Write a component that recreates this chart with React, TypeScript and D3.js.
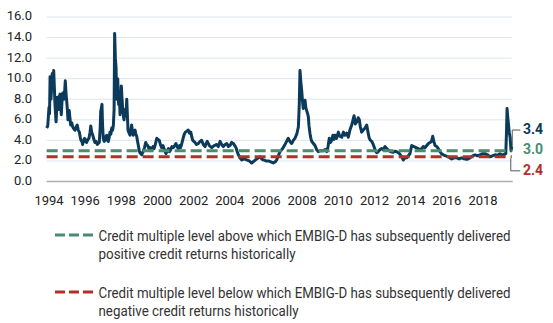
import React from "react";
import * as d3 from "d3";

// EMBIG-D credit multiple, [year, value]
const creditMultiple: [number, number][] = [
  [1993.87, 5.2], [1993.93, 5.4], [1994.0, 7.2], [1994.03, 6.6], [1994.06, 10.2], [1994.11, 8.0],
  [1994.15, 9.4], [1994.18, 10.5], [1994.22, 9.6], [1994.26, 10.8], [1994.3, 9.0], [1994.33, 7.5],
  [1994.39, 5.8], [1994.43, 7.2], [1994.46, 8.2], [1994.5, 7.4], [1994.54, 7.0], [1994.58, 8.3],
  [1994.61, 8.5], [1994.65, 7.3], [1994.68, 6.5], [1994.72, 7.8], [1994.76, 8.6], [1994.8, 8.2],
  [1994.83, 8.0], [1994.87, 8.9], [1994.9, 9.8], [1994.94, 8.6], [1994.98, 7.8], [1995.02, 6.9],
  [1995.05, 6.0], [1995.09, 6.5], [1995.12, 6.9], [1995.16, 6.1], [1995.2, 5.5], [1995.26, 5.7],
  [1995.31, 5.3], [1995.38, 5.1], [1995.44, 5.0], [1995.5, 5.3], [1995.56, 5.5], [1995.62, 5.0],
  [1995.68, 4.8], [1995.73, 4.3], [1995.77, 4.0], [1995.82, 3.9], [1995.86, 3.6], [1995.92, 4.0],
  [1995.97, 4.2], [1996.02, 3.9], [1996.08, 3.8], [1996.15, 4.1], [1996.21, 4.2], [1996.27, 4.8],
  [1996.31, 5.4], [1996.36, 4.8], [1996.42, 4.5], [1996.48, 4.1], [1996.54, 3.8], [1996.6, 3.9],
  [1996.67, 3.6], [1996.72, 3.7], [1996.78, 3.8], [1996.83, 5.2], [1996.86, 6.8], [1996.93, 7.5],
  [1996.96, 5.6], [1997.0, 4.2], [1997.05, 3.9], [1997.1, 4.0], [1997.15, 4.4], [1997.19, 4.5],
  [1997.24, 4.0], [1997.28, 3.9], [1997.33, 4.3], [1997.37, 4.8], [1997.42, 4.6], [1997.47, 5.2],
  [1997.52, 5.0], [1997.56, 5.5], [1997.6, 7.0], [1997.63, 14.4], [1997.67, 12.0], [1997.71, 11.0],
  [1997.74, 8.0], [1997.77, 9.2], [1997.8, 10.0], [1997.85, 7.5], [1997.89, 8.2], [1997.93, 6.5],
  [1997.97, 7.8], [1998.0, 9.3], [1998.04, 8.0], [1998.08, 7.0], [1998.12, 6.3], [1998.15, 6.0],
  [1998.19, 6.8], [1998.22, 7.0], [1998.26, 6.4], [1998.3, 8.0], [1998.34, 6.2], [1998.37, 5.0],
  [1998.43, 4.7], [1998.48, 4.5], [1998.53, 5.0], [1998.57, 5.5], [1998.62, 4.8], [1998.66, 4.5],
  [1998.71, 4.9], [1998.76, 5.0], [1998.8, 4.6], [1998.85, 4.4], [1998.9, 3.9], [1998.94, 3.5],
  [1998.99, 3.0], [1999.03, 2.8], [1999.08, 2.7], [1999.13, 2.6], [1999.17, 2.8], [1999.21, 2.9],
  [1999.28, 3.3], [1999.35, 3.8], [1999.4, 3.6], [1999.46, 3.5], [1999.52, 3.2], [1999.59, 3.3],
  [1999.63, 3.0], [1999.68, 3.1], [1999.75, 3.4], [1999.81, 3.2], [1999.88, 3.6], [1999.96, 4.2],
  [2000.03, 4.1], [2000.1, 4.0], [2000.16, 3.6], [2000.23, 3.3], [2000.3, 3.5], [2000.36, 3.2],
  [2000.42, 2.9], [2000.47, 2.7], [2000.54, 3.0], [2000.6, 3.2], [2000.66, 2.9], [2000.73, 3.1],
  [2000.8, 3.4], [2000.87, 3.3], [2000.95, 3.5], [2001.02, 3.7], [2001.08, 3.4], [2001.15, 3.2],
  [2001.22, 3.5], [2001.28, 3.3], [2001.36, 3.8], [2001.43, 4.3], [2001.48, 4.6], [2001.54, 4.8],
  [2001.62, 4.9], [2001.7, 5.0], [2001.77, 4.7], [2001.84, 4.8], [2001.9, 4.3], [2001.95, 4.0],
  [2002.01, 3.9], [2002.07, 3.8], [2002.16, 3.6], [2002.26, 3.7], [2002.35, 3.9], [2002.44, 4.0],
  [2002.53, 3.6], [2002.63, 3.4], [2002.69, 3.7], [2002.75, 3.9], [2002.87, 3.5], [2003.0, 3.3],
  [2003.13, 3.5], [2003.27, 3.6], [2003.36, 3.4], [2003.46, 3.9], [2003.55, 3.6], [2003.64, 3.4],
  [2003.74, 3.6], [2003.83, 3.7], [2003.92, 3.4], [2004.01, 3.5], [2004.1, 3.8], [2004.19, 3.7],
  [2004.27, 3.5], [2004.34, 3.3], [2004.41, 2.9], [2004.47, 2.6], [2004.56, 2.3], [2004.66, 2.1],
  [2004.8, 2.2], [2004.93, 2.1], [2005.07, 2.0], [2005.21, 1.8], [2005.35, 2.0], [2005.49, 2.2],
  [2005.58, 2.3], [2005.67, 2.4], [2005.76, 2.2], [2005.85, 2.1], [2006.0, 2.0], [2006.13, 2.0],
  [2006.27, 1.9], [2006.4, 1.8], [2006.5, 1.9], [2006.59, 2.1], [2006.68, 2.5], [2006.77, 2.9],
  [2006.92, 3.2], [2007.05, 3.6], [2007.14, 3.9], [2007.23, 4.2], [2007.32, 3.9], [2007.42, 3.7],
  [2007.51, 4.0], [2007.6, 4.2], [2007.7, 4.6], [2007.79, 5.3], [2007.84, 7.5], [2007.88, 10.8],
  [2007.93, 9.6], [2007.97, 8.9], [2008.02, 7.8], [2008.06, 7.1], [2008.11, 7.5], [2008.16, 7.9],
  [2008.2, 7.2], [2008.25, 6.9], [2008.3, 6.6], [2008.34, 6.3], [2008.38, 5.4], [2008.43, 4.7],
  [2008.48, 4.2], [2008.53, 3.9], [2008.62, 3.7], [2008.71, 3.5], [2008.8, 3.1], [2008.89, 2.9],
  [2009.03, 3.0], [2009.17, 3.0], [2009.27, 3.1], [2009.36, 2.9], [2009.43, 3.4], [2009.5, 4.2],
  [2009.56, 3.8], [2009.63, 4.0], [2009.7, 4.5], [2009.76, 4.1], [2009.82, 4.5], [2009.9, 4.2],
  [2010.0, 4.8], [2010.08, 4.4], [2010.19, 4.3], [2010.28, 4.8], [2010.37, 4.5], [2010.46, 4.7],
  [2010.55, 4.3], [2010.64, 5.0], [2010.74, 5.5], [2010.8, 5.9], [2010.87, 6.4], [2010.94, 5.6],
  [2011.02, 5.8], [2011.1, 6.2], [2011.16, 6.0], [2011.22, 5.3], [2011.29, 4.8], [2011.38, 5.0],
  [2011.48, 5.2], [2011.57, 5.5], [2011.64, 4.8], [2011.71, 4.2], [2011.78, 4.0], [2011.85, 3.9],
  [2011.91, 3.7], [2011.97, 3.4], [2012.05, 3.0], [2012.12, 2.8], [2012.21, 2.9], [2012.3, 3.1],
  [2012.4, 3.2], [2012.49, 3.1], [2012.58, 3.4], [2012.67, 3.2], [2012.76, 3.05], [2012.9, 2.9],
  [2013.04, 2.85], [2013.13, 2.95], [2013.23, 2.9], [2013.32, 2.8], [2013.41, 2.65], [2013.5, 2.4],
  [2013.59, 2.1], [2013.69, 2.3], [2013.78, 2.3], [2013.87, 2.5], [2013.96, 2.7], [2014.02, 3.2],
  [2014.06, 3.5], [2014.18, 3.4], [2014.3, 3.3], [2014.41, 3.2], [2014.52, 3.1], [2014.61, 3.2],
  [2014.7, 3.4], [2014.8, 3.3], [2014.89, 3.5], [2014.98, 3.7], [2015.07, 3.8], [2015.15, 3.9],
  [2015.22, 4.4], [2015.28, 3.9], [2015.35, 3.5], [2015.44, 3.4], [2015.53, 3.2], [2015.62, 2.9],
  [2015.71, 2.7], [2015.8, 2.6], [2015.94, 2.5], [2016.08, 2.4], [2016.17, 2.3], [2016.27, 2.2],
  [2016.41, 2.3], [2016.55, 2.3], [2016.68, 2.2], [2016.82, 2.3], [2016.96, 2.2], [2017.1, 2.15],
  [2017.19, 2.2], [2017.28, 2.3], [2017.42, 2.5], [2017.56, 2.6], [2017.7, 2.5], [2017.83, 2.6],
  [2017.97, 2.7], [2018.11, 2.7], [2018.25, 2.6], [2018.39, 2.4], [2018.52, 2.5], [2018.66, 2.6],
  [2018.8, 2.55], [2018.94, 2.7], [2019.03, 2.6], [2019.12, 2.6], [2019.2, 2.65], [2019.26, 2.7],
  [2019.3, 4.8], [2019.33, 7.1], [2019.37, 6.2], [2019.4, 5.7], [2019.45, 4.8], [2019.5, 4.3],
  [2019.55, 3.0], [2019.59, 3.4],
];

const yTicks: number[] = [0, 2, 4, 6, 8, 10, 12, 14, 16];
const xTicks: number[] = [1994, 1996, 1998, 2000, 2002, 2004, 2006, 2008, 2010, 2012, 2014, 2016, 2018];
const positiveLevel = 3.0;
const negativeLevel = 2.4;
const latestValue = 3.4;
const legendPositive = [
  "Credit multiple level above which EMBIG-D has subsequently delivered",
  "positive credit returns historically",
];
const legendNegative = [
  "Credit multiple level below which EMBIG-D has subsequently delivered",
  "negative credit returns historically",
];

const NAVY = "#0b3a5b";
const GREEN = "#4a8c6e";
const RED = "#b3302a";
const FONT = "Roboto, 'Noto Sans', sans-serif";

export default function App() {
  const width = 553;
  const height = 323;
  const x = d3.scaleLinear().domain([1994, 2018]).range([49, 483]);
  const y = d3.scaleLinear().domain([0, 16]).range([181.5, 17]);
  const x0 = x(creditMultiple[0][0]);
  const x1 = x(creditMultiple[creditMultiple.length - 1][0]);

  const line = d3
    .line<[number, number]>()
    .x((d) => x(d[0]))
    .y((d) => y(d[1]));

  const yLast = y(latestValue);
  const yPos = y(positiveLevel);
  const yNeg = y(negativeLevel);
  const bx = x1 + 0.5;

  return (
    <svg
      width={width}
      height={height}
      style={{ position: "absolute", left: 0, top: 0, background: "#fff" }}
      fontFamily={FONT}
    >
      {yTicks.map((t) =>
        t === 0 ? null : (
          <line key={t} x1={x0} x2={x1} y1={y(t)} y2={y(t)} stroke="#dbe6ee" strokeWidth={1} />
        )
      )}
      <line x1={x0} x2={x1 + 1} y1={y(0)} y2={y(0)} stroke="#a9b0b6" strokeWidth={1.5} />
      {yTicks.map((t) => (
        <text key={"yl" + t} x={32} y={y(t)} textAnchor="end" dominantBaseline="middle" fontSize={13} fill="#222">
          {t.toFixed(1)}
        </text>
      ))}
      {xTicks.map((t) => (
        <text key={"xl" + t} x={x(t)} y={205} textAnchor="middle" fontSize={13} fill="#222">
          {t}
        </text>
      ))}
      <path d={line(creditMultiple) || ""} fill="none" stroke={NAVY} strokeWidth={3} strokeLinejoin="round" />
      <line x1={x0} x2={x1} y1={yPos} y2={yPos} stroke={GREEN} strokeWidth={3} strokeDasharray="11,5" />
      <line x1={x0} x2={x1} y1={yNeg} y2={yNeg} stroke={RED} strokeWidth={3} strokeDasharray="11,5" />

      <polyline
        points={`${bx},${yLast} ${bx},${yLast - 16.5} ${bx + 8},${yLast - 16.5}`}
        fill="none"
        stroke="#555"
        strokeWidth={1}
      />
      <polyline
        points={`${bx - 1.5},${yNeg + 1.5} ${bx - 1.5},${yNeg + 14} ${bx + 8},${yNeg + 14}`}
        fill="none"
        stroke="#555"
        strokeWidth={1}
      />
      <text x={523} y={yLast - 16.5} dominantBaseline="middle" fontSize={14} fontWeight="bold" fill={NAVY}>
        {latestValue.toFixed(1)}
      </text>
      <text x={523} y={yPos} dominantBaseline="middle" fontSize={14} fontWeight="bold" fill={GREEN}>
        {positiveLevel.toFixed(1)}
      </text>
      <text x={523} y={yNeg + 14} dominantBaseline="middle" fontSize={14} fontWeight="bold" fill={RED}>
        {negativeLevel.toFixed(1)}
      </text>

      <line x1={55} x2={93} y1={235} y2={235} stroke={GREEN} strokeWidth={3} strokeDasharray="10,4" />
      <text x={98.5} y={240.5} fontSize={14} fill="#333" textLength={412} lengthAdjust="spacingAndGlyphs">
        {legendPositive[0]}
      </text>
      <text x={98.5} y={258.5} fontSize={14} fill="#333" textLength={197} lengthAdjust="spacingAndGlyphs">
        {legendPositive[1]}
      </text>
      <line x1={55} x2={93} y1={292} y2={292} stroke={RED} strokeWidth={3} strokeDasharray="10,4" />
      <text x={98.5} y={297.5} fontSize={14} fill="#333" textLength={412} lengthAdjust="spacingAndGlyphs">
        {legendNegative[0]}
      </text>
      <text x={98.5} y={315.5} fontSize={14} fill="#333" textLength={200} lengthAdjust="spacingAndGlyphs">
        {legendNegative[1]}
      </text>
    </svg>
  );
}
